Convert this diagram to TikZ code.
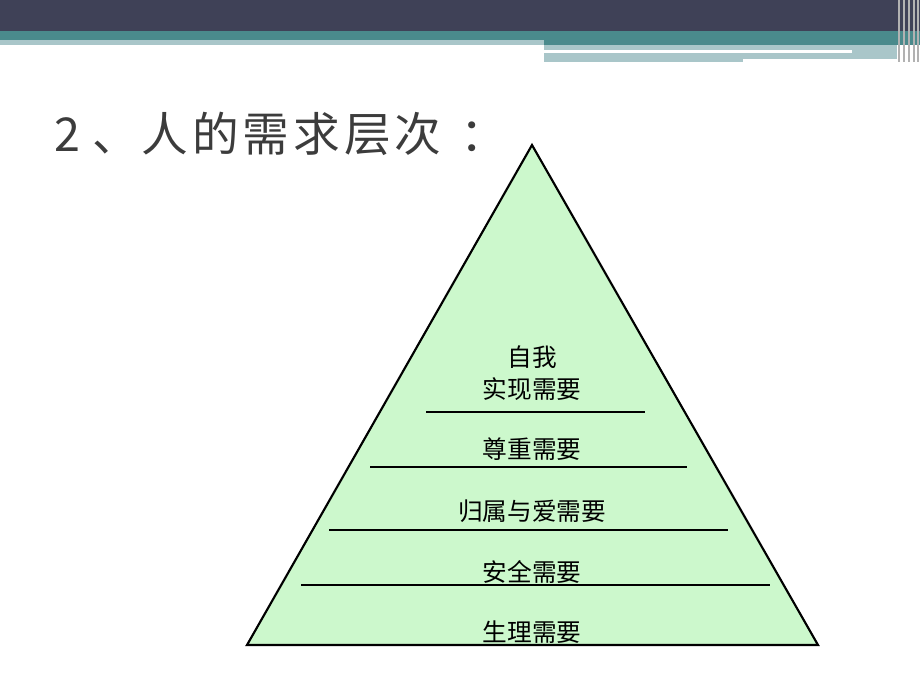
\documentclass[tikz,border=0pt]{standalone}
\usepackage{fontspec}
\setmainfont{Noto Sans CJK SC}
\newfontfamily\cjk{Noto Sans CJK SC}
\usetikzlibrary{calc}
\definecolor{navy}{HTML}{3F4157}
\definecolor{teal1}{HTML}{4A8A8C}
\definecolor{teal2}{HTML}{A9C6C9}
\definecolor{pyrfill}{HTML}{CCF8CC}
\definecolor{titlegray}{HTML}{3C3C3C}

\begin{document}
\begin{tikzpicture}[x=0.75pt,y=-0.75pt]
		\tikzset{level text/.style={font=\cjk\fontsize{18.5}{23}\selectfont,inner sep=0pt,align=center},
			level line/.style={line width=1.6pt}}
		\useasboundingbox (0,0) rectangle (920,690);
		
		% header bar
		\fill[navy] (0,0) rectangle (920,31);
		\fill[teal1] (0,31) rectangle (920,45);
		\fill[teal2] (0,40) rectangle (544,45);
		\fill[teal2] (544,45) rectangle (897,62);
		\fill[white] (544,50) rectangle (852,53);
		\fill[white] (743,59) rectangle (902,62);
		\foreach \x in {898,903,908,913,917}
			\fill[gray!60] (\x,0) rectangle ++(1.5,62);
		
		\node[anchor=west,text=titlegray,font=\cjk\fontsize{35}{40}\selectfont,inner sep=0pt] (title) at (54,134)
			{2\hspace{9pt}、\hspace{2pt}人\hspace{3pt}的\hspace{3pt}需\hspace{3pt}求\hspace{3pt}层\hspace{3pt}次\hspace{14pt}：};
		
		\coordinate (top) at (532,145);
		\coordinate (bl) at (247,645);
		\coordinate (br) at (818,645);
		\draw[fill=pyrfill,line width=1.6pt,line join=miter] (top) -- (bl) -- (br) -- cycle;
		
		\draw[level line] (426,412) -- (645,412);
		\draw[level line] (370,467) -- (687,467);
		\draw[level line] (329,530) -- (728,530);
		\draw[level line] (301,585) -- (770,585);
		
		\node[level text] (self) at (532,373) {自我\\[1pt]实现需要};
		\node[level text] (esteem) at (532,449) {尊重需要};
		\node[level text] (love) at (532,511) {归属与爱需要};
		\node[level text] (safety) at (532,572) {安全需要};
		\node[level text] (body) at (532,632) {生理需要};
		\end{tikzpicture}
\end{document}
